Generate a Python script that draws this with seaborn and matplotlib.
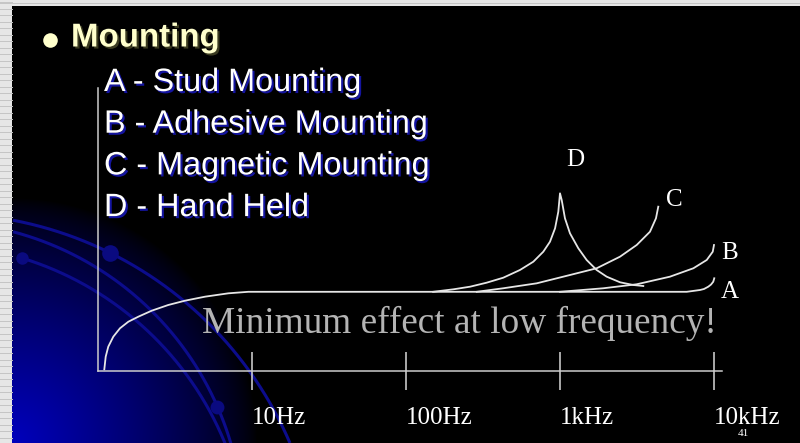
import numpy as np
import pandas as pd
import matplotlib
matplotlib.use('Agg')
import matplotlib.pyplot as plt
import seaborn as sns
from matplotlib import patheffects as pe
from matplotlib.ticker import NullLocator

# frequency response sketches (x in Hz, y relative, flat part ~0.99)
freq_a = [1.099, 1.122, 1.166, 1.257, 1.389, 1.574, 1.828, 2.234, 2.858, 3.673,
          4.955, 7.02, 9.46, 100, 1000, 6650, 8110, 8610, 9184, 9570, 9890, 10040]
resp_a = [0.021, 0.179, 0.304, 0.429, 0.534, 0.616, 0.679, 0.754, 0.825, 0.879,
          0.929, 0.971, 0.99, 0.99, 0.99, 0.99, 1.0125, 1.025, 1.054, 1.081, 1.116, 1.159]

freq_b = [1000, 1910, 3148, 5176, 7345, 8970, 9816, 10000]
resp_b = [0.99, 1.034, 1.084, 1.179, 1.284, 1.3875, 1.491, 1.575]

freq_c = [288, 428, 706, 1161, 1730, 2453, 3148, 3840, 4200, 4347]
resp_c = [0.99, 1.034, 1.096, 1.2, 1.284, 1.429, 1.575, 1.741, 1.909, 2.054]

freq_d = [150, 203, 261, 334, 428, 550, 671, 779, 861, 929, 975, 1000,
          1026, 1077, 1161, 1315, 1490, 1730, 2010, 2453, 2992, 3475]
resp_d = [0.99, 1.021, 1.054, 1.104, 1.166, 1.263, 1.366, 1.491, 1.616, 1.784, 1.991, 2.221,
          2.1375, 1.909, 1.721, 1.534, 1.3875, 1.2625, 1.179, 1.109, 1.075, 1.0625]

curve_names = ['A', 'B', 'C', 'D']
label_freq = [12700, 12700, 5500, 1250]
label_resp = [0.99, 1.475, 2.14, 2.64]

tick_freq = [10, 100, 1000, 10000]
tick_labels = ['10Hz', '100Hz', '1kHz', '10kHz']

title = 'Mounting'
items = ['A - Stud Mounting', 'B - Adhesive Mounting',
         'C - Magnetic Mounting', 'D - Hand Held']
note = 'Minimum effect at low frequency!'
page = '41'

df = pd.concat([
    pd.DataFrame({'freq': f, 'resp': r, 'mount': n})
    for f, r, n in zip([freq_a, freq_b, freq_c, freq_d],
                       [resp_a, resp_b, resp_c, resp_d], curve_names)
], ignore_index=True)

W, H = 800, 443
fig = plt.figure(figsize=(8, 4.43), dpi=100, facecolor='#e6e6e6')

# slide background in pixel coordinates
bg = fig.add_axes([0, 0, 1, 1], zorder=0)
bg.axis('off')

for y in np.arange(2, H, 6.5):
    bg.plot([0, 12], [y, y], color='#c4c4c4', lw=0.7)
bg.plot([0, W], [3, 3], color='#c4c4c4', lw=0.7)

xx, yy = np.meshgrid(np.arange(12, W) + 0.5, np.arange(6, H) + 0.5)
rr = np.hypot(xx - 12, H - yy)
blue = 0.74 * np.clip(1 - rr / 245, 0, 1) ** 0.75
img = np.zeros(xx.shape + (3,))
img[..., 2] = blue
bg.imshow(img, extent=[12, W, H, 6], aspect='auto', interpolation='bilinear')

# decorative arcs
for (cx, cy, r, p0, p1) in [(-58, 592, 378.5, (13, 220), (290, 443)),
                            (-66, 531, 309.5, (13, 232), (232, 443)),
                            (-72, 565, 321.0, (22, 258), (226, 443))]:
    t0 = np.arctan2(cy - p0[1], p0[0] - cx)
    t1 = np.arctan2(cy - p1[1], p1[0] - cx)
    t = np.linspace(t0, t1, 200)
    bg.plot(cx + r * np.cos(t), cy - r * np.sin(t), color='#0c0c8c', lw=2.2,
            solid_capstyle='butt')
for (x, y, s) in [(110, 253, 12), (217, 407, 10), (22, 258, 9)]:
    bg.plot(x, y, 'o', ms=s, color='#0a0a80', mec='none')
bg.set_xlim(0, W)
bg.set_ylim(H, 0)

# text
bg.plot(50, 40, 'o', ms=10.5, color='#ffffcc', mec='none')
bg.text(71, 38, title, fontsize=23.8, fontweight='bold', family='Liberation Sans',
        color='#ffffcc', va='center', ha='left',
        path_effects=[pe.withSimplePatchShadow(offset=(1.5, -1.5),
                                               shadow_rgbFace='#3a3a20', alpha=1)])
for i, txt in enumerate(items):
    bg.text(104, 83 + i * 41.7, txt, fontsize=23.3, family='Liberation Sans',
            color='white', va='center', ha='left',
            path_effects=[pe.withSimplePatchShadow(offset=(1.5, -1.5),
                                                   shadow_rgbFace='#1414a0', alpha=1)])
bg.text(459, 323, note, fontsize=26.8, family='Liberation Serif', color='#b4b4b4',
        va='center', ha='center')
bg.text(743, 434, page, fontsize=8, family='Liberation Serif', color='white',
        va='center', ha='center')

# chart axes
ax = fig.add_axes([98 / W, (H - 371) / H, 624 / W, 283 / H], zorder=1)
ax.set_facecolor('none')
sns.lineplot(data=df, x='freq', y='resp', hue='mount',
             palette={n: '#e6e6e6' for n in curve_names},
             estimator=None, sort=False, legend=False, lw=1.3, ax=ax)
ax.set_xscale('log')
ax.set_xlim(1.0, 10 ** 4.052)
ax.set_ylim(0, 283 / 80)
for s in ['top', 'right']:
    ax.spines[s].set_visible(False)
for s in ['left', 'bottom']:
    ax.spines[s].set_color('#cccccc')
    ax.spines[s].set_linewidth(1.1)
ax.set_yticks([])
ax.xaxis.set_minor_locator(NullLocator())
ax.set_xticks(tick_freq)
ax.set_xticklabels(tick_labels, ha='left', family='Liberation Serif',
                   fontsize=18, color='white')
ax.tick_params(axis='x', direction='inout', length=28, width=1.1,
               color='#d8d8d8', pad=12)
ax.set_xlabel('')
ax.set_ylabel('')

for n, f, r in zip(curve_names, label_freq, label_resp):
    ax.text(f, r, n, fontsize=18, family='Liberation Serif', color='white',
            ha='center', va='center', clip_on=False)

fig.savefig('out.png', dpi=100, facecolor=fig.get_facecolor())
